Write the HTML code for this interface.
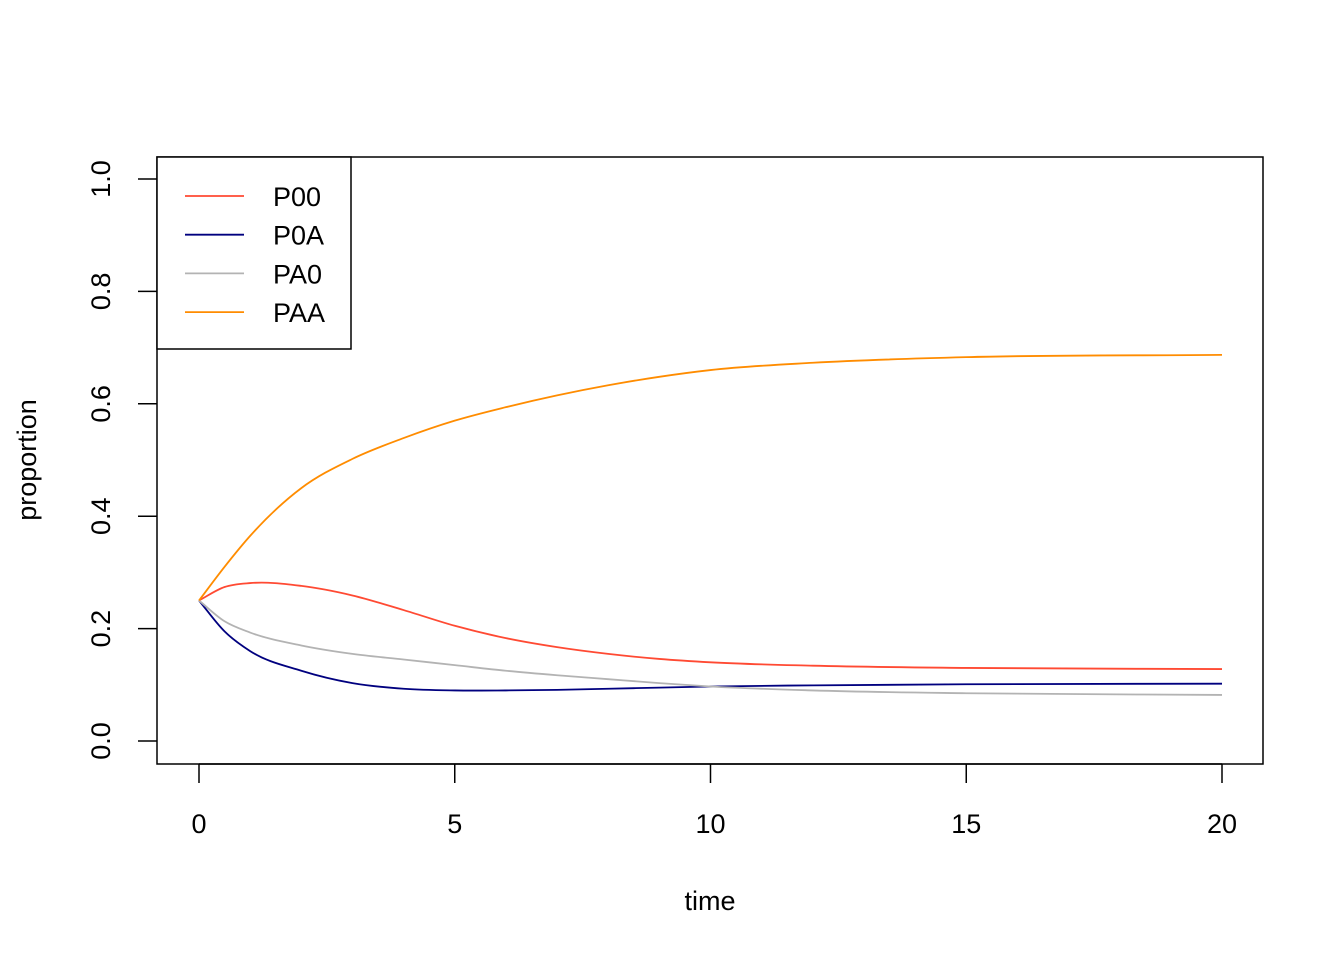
<!DOCTYPE html>
<html><head><meta charset="utf-8"><style>
body{margin:0;background:#fff}
svg text{font-family:"Liberation Sans",Arial,sans-serif;font-size:27px;fill:#000}
</style></head><body>
<svg id="chart" width="1344" height="960" viewBox="0 0 1344 960">
<rect width="1344" height="960" fill="#fff"/>
<g id="axes"></g>
<g id="lines"></g>
<g id="legend"></g>
</svg>
<script>
const times = [0,0.5,1,2,3,4,5,6,7,8,9,10,12,15,20];
const p00 = [0.25,0.274,0.281,0.276,0.259,0.233,0.205,0.183,0.167,0.155,0.146,0.14,0.134,0.13,0.128];
const p0a = [0.25,0.195,0.16,0.125,0.103,0.093,0.09,0.09,0.091,0.093,0.095,0.097,0.099,0.101,0.102];
const pa0 = [0.25,0.213,0.193,0.17,0.155,0.145,0.135,0.125,0.117,0.11,0.103,0.097,0.09,0.085,0.082];
const paa = [0.25,0.31,0.365,0.45,0.502,0.539,0.57,0.594,0.615,0.633,0.648,0.66,0.673,0.683,0.687];
const xTicks = [0,5,10,15,20];
const yTicks = [0,0.2,0.4,0.6,0.8,1.0];
const yTickLabels = ["0.0","0.2","0.4","0.6","0.8","1.0"];
const seriesNames = ["P00","P0A","PA0","PAA"];
const seriesColors = ["#ff4a33","#00007f","#b3b3b3","#ff8c00"];
const seriesData = [p00,p0a,pa0,paa];

const NS="http://www.w3.org/2000/svg";
const X=t=>199+(1222-199)*t/20;
const Y=v=>741-(741-179)*v;
function mk(tag,attrs,parent,txt){const e=document.createElementNS(NS,tag);for(const k in attrs)e.setAttribute(k,attrs[k]);if(txt!==undefined)e.textContent=txt;parent.appendChild(e);return e;}
const axes=document.getElementById('axes');
const box=mk('rect',{x:157,y:157,width:1106,height:607,fill:'none',stroke:'#000','stroke-width':1.5},axes);


const xa=mk('line',{x1:X(0),x2:X(20),y1:764,y2:764,stroke:'#000','stroke-width':1.5},axes);


xTicks.forEach(t=>{
  const l=mk('line',{x1:X(t),x2:X(t),y1:764,y2:783,stroke:'#000','stroke-width':1.5},axes);
  
  
  const tx=mk('text',{x:X(t),y:833,'text-anchor':'middle'},axes,String(t));
  
  
});
yTicks.forEach((v,i)=>{
  const l=mk('line',{x1:138,x2:157,y1:Y(v),y2:Y(v),stroke:'#000','stroke-width':1.5},axes);
  
  
  const tx=mk('text',{x:110,y:Y(v),'text-anchor':'middle',transform:`rotate(-90 110 ${Y(v)})`},axes,yTickLabels[i]);
  
  
});
const xt=mk('text',{x:710,y:910,'text-anchor':'middle'},axes,'time');


const yt=mk('text',{x:36,y:460,'text-anchor':'middle',transform:'rotate(-90 36 460)'},axes,'proportion');



function pathFor(vals){
  const n=times.length;
  // slopes dv/dt via non-uniform finite differences
  const m=vals.map((v,i)=>{
    if(i===0) return (vals[1]-vals[0])/(times[1]-times[0]);
    if(i===n-1) return (vals[n-1]-vals[n-2])/(times[n-1]-times[n-2]);
    const h0=times[i]-times[i-1],h1=times[i+1]-times[i];
    const d0=(vals[i]-vals[i-1])/h0,d1=(vals[i+1]-vals[i])/h1;
    return (d0*h1+d1*h0)/(h0+h1);
  });
  let d=`M${X(times[0])},${Y(vals[0])}`;
  for(let i=0;i<n-1;i++){
    const h=times[i+1]-times[i];
    const c1t=times[i]+h/3,c1v=vals[i]+m[i]*h/3;
    const c2t=times[i+1]-h/3,c2v=vals[i+1]-m[i+1]*h/3;
    d+=` C${X(c1t)},${Y(c1v)} ${X(c2t)},${Y(c2v)} ${X(times[i+1])},${Y(vals[i+1])}`;
  }
  return d;
}
const lines=document.getElementById('lines');
seriesData.forEach((vals,i)=>{
  const pth=mk('path',{d:pathFor(vals),fill:'none',stroke:seriesColors[i],'stroke-width':1.8},lines);
  
  
});
const lg=document.getElementById('legend');


const lb=mk('rect',{x:157,y:157,width:194,height:192,fill:'#fff',stroke:'#000','stroke-width':1.5},lg);


seriesNames.forEach((n,i)=>{
  const y=196+i*38.7;
  const g=mk('g',{},lg);
  
  
  mk('line',{x1:185,x2:244,y1:y,y2:y,stroke:seriesColors[i],'stroke-width':1.8},g);
  mk('text',{x:273,y:y+10},g,n);
});
</script>
</body></html>
